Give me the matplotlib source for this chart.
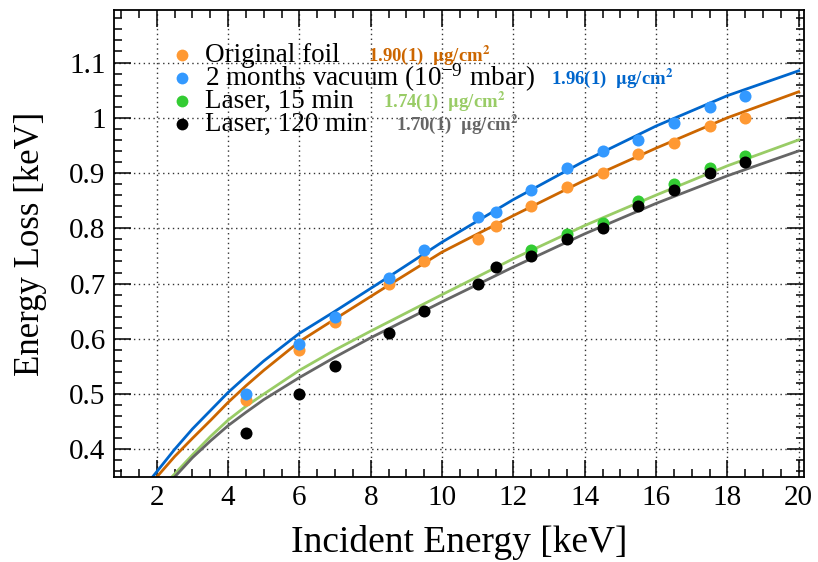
import numpy as np
import matplotlib.pyplot as plt
from matplotlib.ticker import MultipleLocator, FormatStrFormatter

plt.rcParams['font.family'] = ['Liberation Serif', 'DejaVu Serif']
plt.rcParams['mathtext.fontset'] = 'stix'

# --------------------------
# data points
x_pts = [4.5, 6, 7, 8.5, 9.5, 11, 11.5, 12.5, 13.5, 14.5, 15.5, 16.5, 17.5, 18.5]
orig_pts = [0.49, 0.58, 0.63, 0.70, 0.74, 0.78, 0.805, 0.84, 0.875, 0.90, 0.935, 0.955, 0.985, 1.00]
vac_pts = [0.50, 0.59, 0.64, 0.71, 0.76, 0.82, 0.83, 0.87, 0.91, 0.94, 0.96, 0.99, 1.02, 1.04]
x_l15 = [12.5, 13.5, 14.5, 15.5, 16.5, 17.5, 18.5]
l15_pts = [0.76, 0.79, 0.81, 0.85, 0.88, 0.91, 0.93]
l120_pts = [0.43, 0.50, 0.55, 0.61, 0.65, 0.70, 0.73, 0.75, 0.78, 0.80, 0.84, 0.87, 0.90, 0.92]

# simulated curves
x_vac = [1.88, 2.5, 3, 3.5, 4, 4.5, 5, 6, 7, 8.5, 10, 12, 14, 16, 18, 20]
vac_fit = [0.35, 0.40, 0.437, 0.47, 0.503, 0.532, 0.56, 0.61, 0.65, 0.712, 0.775, 0.852, 0.922, 0.985, 1.04, 1.085]
x_orig = [2.0, 2.5, 3, 3.5, 4, 4.5, 5, 6, 7, 8.5, 10, 12, 14, 16, 18, 20]
orig_fit = [0.35, 0.387, 0.42, 0.452, 0.485, 0.515, 0.543, 0.595, 0.636, 0.697, 0.757, 0.823, 0.887, 0.945, 1.0, 1.047]
x_l15f = [2.42, 3, 3.5, 4, 4.5, 5, 6, 7, 8, 10, 12, 14, 16, 18, 20]
l15_fit = [0.35, 0.39, 0.423, 0.453, 0.478, 0.5, 0.543, 0.58, 0.614, 0.68, 0.745, 0.805, 0.86, 0.913, 0.96]
x_l120f = [2.5, 3, 3.5, 4, 4.5, 5, 6, 7, 8, 10, 12, 14, 16, 18, 20]
l120_fit = [0.35, 0.385, 0.415, 0.443, 0.467, 0.49, 0.53, 0.567, 0.602, 0.667, 0.73, 0.79, 0.845, 0.895, 0.94]

fig = plt.figure(figsize=(8.18, 5.62), dpi=100)
ax = fig.add_axes([114/818, 1-477/562, 690/818, 467/562])

ax.plot(x_vac, vac_fit, color='#0066CC', lw=2)
ax.plot(x_orig, orig_fit, color='#CC6600', lw=2)
ax.plot(x_l15f, l15_fit, color='#99CC66', lw=2)
ax.plot(x_l120f, l120_fit, color='#666666', lw=2)

ms = 75
ax.scatter(x_pts, orig_pts, s=ms, color='#FF9933', zorder=3, lw=0)
ax.scatter(x_pts, vac_pts, s=ms, color='#3399FF', zorder=3, lw=0)
ax.scatter(x_l15, l15_pts, s=ms, color='#33CC33', zorder=3, lw=0)
ax.scatter(x_pts, l120_pts, s=ms, color='black', zorder=4, lw=0)

ax.set_xlim(0.8, 20.15)
ax.set_ylim(0.35, 1.195)
ax.xaxis.set_major_locator(MultipleLocator(2))
ax.xaxis.set_minor_locator(MultipleLocator(0.5))
ax.yaxis.set_major_locator(MultipleLocator(0.1))
ax.yaxis.set_minor_locator(MultipleLocator(0.02))
ax.yaxis.set_major_formatter(FormatStrFormatter('%g'))
ax.tick_params(which='both', direction='in', top=True, right=True, labelsize=21, width=1.1, pad=6)
ax.tick_params(which='major', length=12)
ax.tick_params(which='minor', length=6)
ax.grid(True, which='major', linestyle=(0, (1, 2.5)), color='#333333', lw=1)
for s in ax.spines.values():
    s.set_linewidth(1.3)

ax.set_xlabel('Incident Energy [keV]', fontsize=27, labelpad=10)
ax.set_ylabel('Energy Loss [keV]', fontsize=25, labelpad=16)

# --------------------------
# legend drawn by hand
leg_y = [55, 78, 101, 124]
leg_c = ['#FF9933', '#3399FF', '#33CC33', 'black']
leg_t = ['Original foil', '2 months vacuum (10$^{\\mathregular{-9}}$ mbar)', 'Laser, 15 min', 'Laser, 120 min']
dens_t = ['1.90(1)  $\\mathbf{\\mu}$g/cm$^{\\mathbf{2}}$', '1.96(1)  $\\mathbf{\\mu}$g/cm$^{\\mathbf{2}}$',
          '1.74(1)  $\\mathbf{\\mu}$g/cm$^{\\mathbf{2}}$', '1.70(1)  $\\mathbf{\\mu}$g/cm$^{\\mathbf{2}}$']
dens_c = ['#CC6600', '#0066CC', '#99CC66', '#666666']
dens_x = [368, 551, 383, 396]
for i in range(4):
    yy = 1 - leg_y[i]/562
    fig.lines.append(plt.Line2D([182/818], [yy], marker='o', ms=8.5, color=leg_c[i], mec='none',
                                transform=fig.transFigure))
    fig.text(205/818, yy, leg_t[i], fontsize=19.5, va='center', ha='left')
    fig.text(dens_x[i]/818, yy, dens_t[i], fontsize=13.5, fontweight='bold', color=dens_c[i],
             va='center', ha='left')

plt.savefig('out.png', dpi=100)
